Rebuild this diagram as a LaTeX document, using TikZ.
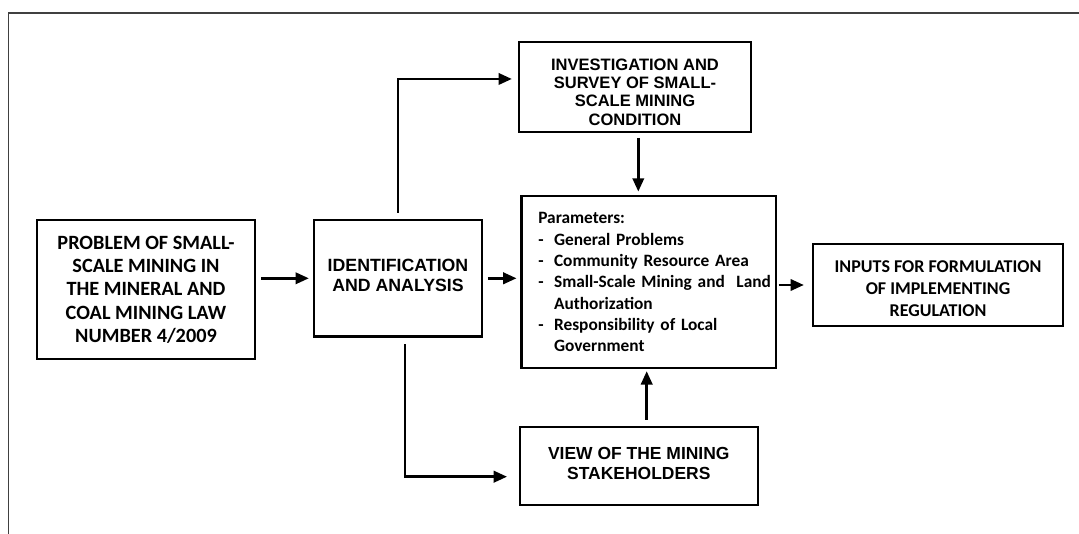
\documentclass[tikz,border=0pt]{standalone}
\usepackage{fontspec}
\setmainfont{Carlito}
\newfontfamily\arialfont{Liberation Sans}
\usetikzlibrary{arrows.meta}

\begin{document}
\begin{tikzpicture}[x=0.75pt,y=-0.75pt,
   blk/.style={draw,line width=1.7pt,align=center,inner sep=0pt},
   arr/.style={line width=2pt,-{Triangle[length=10pt,width=8.5pt]}}]
   \useasboundingbox (0,0) rectangle (1079,534);
   \draw[black!75,line width=1.3pt] (8.6,534) -- (8.6,13.3) -- (1079,13.3);
   % boxes
   \node[blk,minimum width=163.5pt,minimum height=104.3pt,font=\fontsize{15.2}{17.5}\selectfont\bfseries] (problem) at (146,289.5)
      {PROBLEM OF SMALL-\\SCALE MINING IN\\THE MINERAL AND\\COAL MINING LAW\\NUMBER 4/2009};
   \node[blk,minimum width=126pt,minimum height=87.5pt,font=\arialfont\fontsize{13.3}{15.2}\selectfont\bfseries] (ident) at (398,278.3)
      {IDENTIFICATION\\AND ANALYSIS\rule[-4.5pt]{0pt}{0pt}};
   \node[blk,minimum width=174pt,minimum height=67.5pt,font=\arialfont\fontsize{12.4}{13.8}\selectfont\bfseries] (invest) at (635,86.7)
      {\rule{0pt}{16.5pt}INVESTIGATION AND\\SURVEY OF SMALL-\\SCALE MINING\\CONDITION};
   \node[blk,align=left,inner xsep=12.6pt,text width=165.7pt,minimum height=129.2pt,font=\fontsize{13}{16}\selectfont\bfseries] (params) at (648.8,282.2)
      {Parameters:\\
       \makebox[11.8pt][l]{-}General Problems\\
       \makebox[11.8pt][l]{-}Community Resource Area\\
       \mbox{\makebox[11.8pt][l]{-}Small-Scale Mining and\ \ Land}\\
       \hspace*{11.8pt}Authorization\\
       \makebox[11.8pt][l]{-}Responsibility of Local\\
       \hspace*{11.8pt}Government};
   \node[blk,minimum width=187.5pt,minimum height=61pt,font=\fontsize{13.5}{16.5}\selectfont\bfseries] (inputs) at (938,285)
      {\rule{0pt}{14.7pt}INPUTS FOR FORMULATION\\OF IMPLEMENTING\\REGULATION};
   \node[blk,minimum width=178.3pt,minimum height=58.7pt,font=\arialfont\fontsize{13.1}{15.5}\selectfont\bfseries] (view) at (638.8,465.9)
      {VIEW OF THE MINING\\STAKEHOLDERS\rule[-3.8pt]{0pt}{0pt}};
   \coordinate (ip) at (638.3,0);
   \coordinate (vp) at (646.7,0);
   % arrows
   \draw[arr,shorten <=3.7pt,shorten >=3pt] (problem.east |- ident.west) -- (ident.west);
   \draw[arr,shorten <=3.5pt,shorten >=2.9pt] (ident.east) -- (ident.east -| params.west);
   \draw[arr,shorten <=1pt,shorten >=6pt] (params.east |- inputs.west) -- (inputs.west);
   \draw[arr,shorten <=4.5pt,shorten >=4.5pt] (ident.north) |- ([yshift=5.8pt]invest.west);
   \draw[arr,shorten <=5pt,shorten >=8.8pt] ([xshift=5.2pt]ident.south) |- ([yshift=-8.1pt]view.west);
   \draw[arr,shorten <=3.7pt,shorten >=2.5pt] (ip |- invest.south) -- (ip |- params.north);
   \draw[arr,shorten <=4.5pt,shorten >=1.3pt] (vp |- view.north) -- (vp |- params.south);
\end{tikzpicture}
\end{document}
